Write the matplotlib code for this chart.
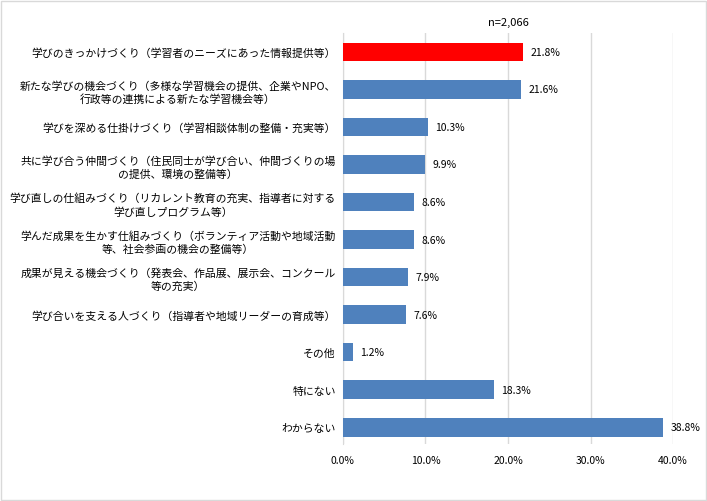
import matplotlib.pyplot as plt
from matplotlib.patches import Rectangle

plt.rcParams['font.family'] = ['Noto Sans CJK JP', 'DejaVu Sans']

categories = [
    "学びのきっかけづくり（学習者のニーズにあった情報提供等）",
    "新たな学びの機会づくり（多様な学習機会の提供、企業やNPO、\n行政等の連携による新たな学習機会等）",
    "学びを深める仕掛けづくり（学習相談体制の整備・充実等）",
    "共に学び合う仲間づくり（住民同士が学び合い、仲間づくりの場\nの提供、環境の整備等）",
    "学び直しの仕組みづくり（リカレント教育の充実、指導者に対する\n学び直しプログラム等）",
    "学んだ成果を生かす仕組みづくり（ボランティア活動や地域活動\n等、社会参画の機会の整備等）",
    "成果が見える機会づくり（発表会、作品展、展示会、コンクール\n等の充実）",
    "学び合いを支える人づくり（指導者や地域リーダーの育成等）",
    "その他",
    "特にない",
    "わからない",
]
values = [21.8, 21.6, 10.3, 9.9, 8.6, 8.6, 7.9, 7.6, 1.2, 18.3, 38.8]
highlight = 0
n_label = "n=2,066"
x_ticks = [0, 10, 20, 30, 40]

blue = "#4F81BD"
red = "#FF0000"

fig = plt.figure(figsize=(7.07, 5.02), dpi=100)
ax = fig.add_axes([0.485, 0.1135, 0.467, 0.8185])

colors = [red if i == highlight else blue for i in range(len(values))]
y = list(range(len(values)))
ax.barh(y, values, height=0.5, color=colors, zorder=3)

for yi, v in zip(y, values):
    ax.text(v + 0.9, yi, f"{v:.1f}%", va="center", ha="left", fontsize=7.5)

ax.set_xlim(0, 40)
ax.set_ylim(10.45, -0.5)
ax.set_xticks(x_ticks)
ax.set_xticklabels([f"{t:.1f}%" for t in x_ticks], fontsize=7.5)
ax.set_yticks(y)
ax.set_yticklabels(categories, fontsize=7.8, multialignment="center", linespacing=1.35)
ax.tick_params(axis="both", length=0)
ax.tick_params(axis="y", pad=5)
ax.tick_params(axis="x", pad=8)

ax.grid(axis="x", color="#D9D9D9", linewidth=1, zorder=0)
for s in ["top", "right", "bottom"]:
    ax.spines[s].set_visible(False)
ax.spines["left"].set_color("#D9D9D9")

ax.set_title(n_label, fontsize=8, pad=6)

fig.patches.append(Rectangle((0.002, 0.002), 0.996, 0.995, transform=fig.transFigure,
                             fill=False, edgecolor="#D9D9D9", linewidth=1))

fig.savefig("out.png", dpi=100)
